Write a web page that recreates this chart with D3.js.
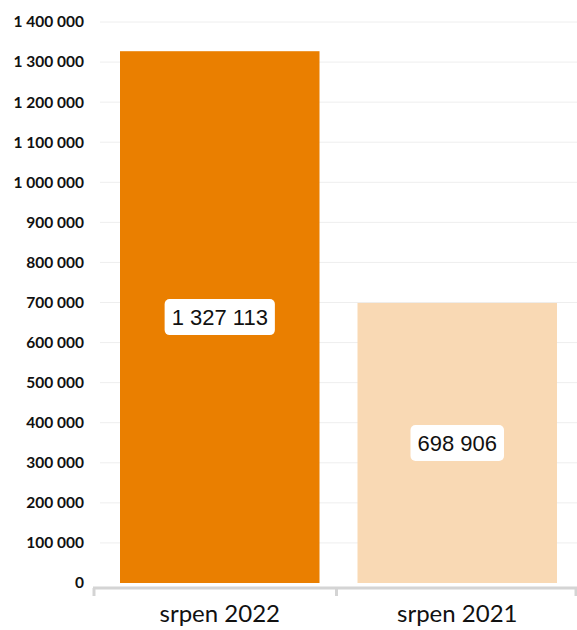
<!DOCTYPE html>
<html lang="cs">
  <head>
    <meta charset="utf-8">
    <title>srpen</title>
    <script src="https://cdn.jsdelivr.net/npm/d3@7"></script>
    <style>
      body { margin: 0; background: #fff; }
    </style>
  </head>
  <body>
    <div id="chart"></div>
    <script>
      let categories = ['srpen 2022', 'srpen 2021']
      let values = [1327113, 698906]
      let colors = ['#ea7f00', '#f9d9b4']
      let tickValues = [0, 100000, 200000, 300000, 400000, 500000, 600000,
                        700000, 800000, 900000, 1000000, 1100000, 1200000, 1300000, 1400000]

      let width = 577
      let height = 630
      let fmt = (v) => d3.format(',')(v).replace(/,/g, ' ')

      let svg = d3.select('#chart').append('svg')
        .attr('width', width)
        .attr('height', height)

      let scale_x = d3.scaleBand()
        .domain(categories)
        .range([101, 576])
        .paddingInner(0.16)
        .paddingOuter(0.08)
      let scale_y = d3.scaleLinear()
        .domain([0, 1400000])
        .range([583, 22])

      // gridlines
      svg.selectAll('line.grid')
        .data(tickValues.slice(1))
        .enter()
        .append('line')
        .attr('class', 'grid')
        .attr('x1', 100)
        .attr('x2', width)
        .attr('y1', (d) => scale_y(d))
        .attr('y2', (d) => scale_y(d))
        .attr('stroke', '#eeeeee')
        .attr('stroke-width', 1)

      // y tick labels
      svg.selectAll('text.ytick')
        .data(tickValues)
        .enter()
        .append('text')
        .attr('class', 'ytick')
        .attr('x', 84)
        .attr('y', (d) => scale_y(d))
        .attr('dy', '0.35em')
        .attr('text-anchor', 'end')
        .attr('font-family', 'Lato, sans-serif')
        .attr('font-weight', 'bold')
        .attr('font-size', '15.5px')
        .attr('fill', '#111')
        .text((d) => fmt(d))

      // bars
      svg.selectAll('rect.bar')
        .data(values)
        .enter()
        .append('rect')
        .attr('class', 'bar')
        .attr('x', (d, i) => scale_x(categories[i]))
        .attr('y', (d) => scale_y(d))
        .attr('width', scale_x.bandwidth())
        .attr('height', (d) => scale_y(0) - scale_y(d))
        .attr('fill', (d, i) => colors[i])

      // x axis line and ticks
      let axisY = 588
      svg.append('line')
        .attr('x1', 93).attr('x2', width)
        .attr('y1', axisY).attr('y2', axisY)
        .attr('stroke', '#d4d4d4').attr('stroke-width', 3)
      let edges = [scale_x.range()[0] - 7, scale_x.range()[0] + scale_x.step() - 2, width - 1]
      svg.selectAll('line.xtick')
        .data(edges)
        .enter()
        .append('line')
        .attr('class', 'xtick')
        .attr('x1', (d) => d).attr('x2', (d) => d)
        .attr('y1', axisY).attr('y2', axisY + 8)
        .attr('stroke', '#d4d4d4').attr('stroke-width', 3)

      // category labels
      svg.selectAll('text.xlabel')
        .data(categories)
        .enter()
        .append('text')
        .attr('class', 'xlabel')
        .attr('x', (d) => scale_x(d) + scale_x.bandwidth() / 2)
        .attr('y', 622)
        .attr('text-anchor', 'middle')
        .attr('font-family', 'Lato, sans-serif')
        .attr('font-size', '24px')
        .attr('fill', '#111')
        .text((d) => d)

      // value labels with white boxes
      let labels = svg.selectAll('g.vlabel')
        .data(values)
        .enter()
        .append('g')
        .attr('class', 'vlabel')
        .attr('transform', (d, i) => 'translate(' + (scale_x(categories[i]) + scale_x.bandwidth() / 2) + ',' + ((scale_y(d) + scale_y(0)) / 2) + ')')

      labels.append('text')
        .attr('text-anchor', 'middle')
        .attr('dy', '0.35em')
        .attr('font-family', 'Liberation Sans, Arial, sans-serif')
        .attr('font-size', '22px')
        .attr('fill', '#111')
        .text((d) => fmt(d))

      labels.each(function () {
        let g = d3.select(this)
        let bb = g.select('text').node().getBBox()
        g.insert('rect', 'text')
          .attr('x', bb.x - 7)
          .attr('y', -18)
          .attr('width', bb.width + 14)
          .attr('height', 36)
          .attr('rx', 5)
          .attr('fill', '#fff')
      })
    </script>
  </body>
</html>
